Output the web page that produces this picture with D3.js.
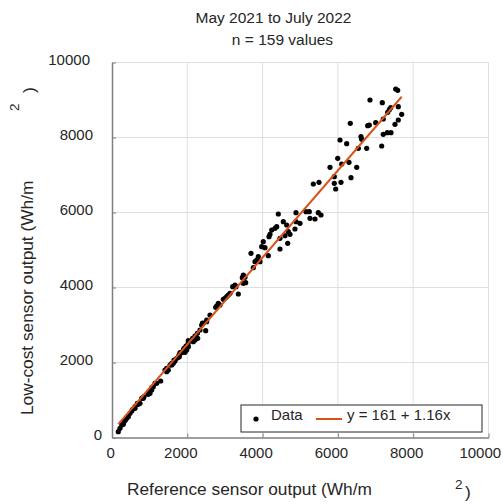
<!DOCTYPE html>
<html><head><meta charset="utf-8">
<script src="https://cdn.jsdelivr.net/npm/d3@7"></script>
<style>body{margin:0;background:#fff}svg{display:block;font-family:"Liberation Sans",Arial,sans-serif}</style>
</head><body>
<script>
const titleLines = ["May 2021 to July 2022", "n = 159 values"];
const xTicks = [0, 2000, 4000, 6000, 8000, 10000];
const yTicks = [0, 2000, 4000, 6000, 8000, 10000];
const xLabelMain = "Reference sensor output (Wh/m";
const yLabelMain = "Low-cost sensor output (Wh/m";
const legendLabels = ["Data", "y = 161 + 1.16x"];
const fitIntercept = 161, fitSlope = 1.16;

const refOutput = [167,212,258,300,319,359,390,433,478,523,550,611,611,672,699,744,789,831,850,964,991,1009,1054,1054,1097,1142,1187,1293,1408,1453,1453,1495,1540,1586,1586,1628,1647,1673,1718,1761,1787,1780,1806,1851,1894,1912,1939,1939,1965,1984,2011,2027,2027,2027,2143,2159,2204,2204,2266,2276,2337,2382,2404,2425,2489,2515,2515,2603,2754,2781,2823,2868,2956,3001,3046,3089,3134,3206,3267,3293,3355,3487,3506,3532,3461,3551,3487,3692,3753,3798,3843,3886,3931,3976,4018,4064,4151,4170,4196,4242,4329,4374,4417,4462,4462,4550,4595,4640,4667,4683,4728,4860,4887,4887,4993,5153,5240,5259,5392,5479,5551,5347,5498,5790,5904,5904,5941,5995,6056,6082,6101,6234,6295,6329,6348,6499,6542,6613,6632,6765,6791,6834,6852,7004,7163,7179,7205,7205,7312,7322,7365,7402,7410,7516,7535,7588,7604,7604,7694];
const lowCostOutput = [155,245,333,352,421,467,512,555,645,707,752,779,821,912,885,912,1045,1045,1088,1152,1221,1179,1267,1328,1355,1445,1445,1507,1800,1755,1845,1800,1933,1933,1979,1979,2067,2040,2112,2139,2155,2200,2261,2261,2333,2379,2272,2379,2440,2333,2467,2421,2528,2581,2645,2555,2600,2707,2779,2645,2867,3000,3053,3045,2848,3088,3133,3267,3472,3507,3579,3533,3685,3712,3755,3800,3845,4021,4067,4021,3827,4333,4307,4272,4261,4128,4112,4912,4528,4688,4733,4821,4688,5088,5221,5061,4848,5355,5419,5533,5579,5621,5960,5312,5027,5755,5381,5667,5179,5488,5419,5560,5755,5995,5712,6021,6021,5845,5827,5995,5933,6760,6805,7205,6955,6779,6627,7445,7933,6805,7293,7835,7339,8379,6928,7205,7712,8021,7952,7712,8315,8333,9000,8395,7773,8928,8493,8085,8128,8672,8741,8795,8128,8352,9293,9259,8821,8467,8619];

const W = 503, H = 504;
const textColor = "#262626", fitColor = "#D95319", gridColor = "#dfdfdf", axisColor = "#7f7f7f";

const svg = d3.select("body").append("svg").attr("width", W).attr("height", H);
const x = d3.scaleLinear().domain([0, 10000]).range([112, 488.5]);
const y = d3.scaleLinear().domain([0, 10000]).range([437.5, 62.5]);

// grid
svg.append("g").selectAll("line").data(xTicks.filter(d => d > 0)).join("line")
  .attr("x1", d => x(d)).attr("x2", d => x(d)).attr("y1", y(0)).attr("y2", y(10000))
  .attr("stroke", gridColor).attr("stroke-width", 1);
svg.append("g").selectAll("line").data(yTicks.filter(d => d > 0)).join("line")
  .attr("y1", d => y(d)).attr("y2", d => y(d)).attr("x1", x(0)).attr("x2", x(10000))
  .attr("stroke", gridColor).attr("stroke-width", 1);

// axes
const gx = svg.append("g").attr("transform", `translate(0,${y(0)})`)
  .call(d3.axisBottom(x).tickValues(xTicks).tickSizeInner(-4).tickSizeOuter(0).tickFormat(d3.format("d")));
gx.selectAll("text").attr("y", 10).attr("dx", d => -1.75 * String(d).length)
  .attr("fill", textColor).style("font-size", "15px").style("font-family", "Liberation Sans, Arial, sans-serif");
const gy = svg.append("g").attr("transform", `translate(${x(0)},0)`)
  .call(d3.axisLeft(y).tickValues(yTicks).tickSizeInner(-4).tickSizeOuter(0).tickFormat(d3.format("d")));
gy.selectAll("text").attr("x", d => -(7 + 3 * String(d).length)).attr("dy", "0.32em").attr("y", -3)
  .attr("fill", textColor).style("font-size", "15px").style("font-family", "Liberation Sans, Arial, sans-serif");
[gx, gy].forEach(g => {
  g.select(".domain").attr("stroke", axisColor).attr("stroke-width", 1.5);
  g.selectAll(".tick line").attr("stroke", axisColor).attr("stroke-width", 1);
});

// points
svg.append("g").selectAll("circle").data(refOutput.map((d, i) => [d, lowCostOutput[i]])).join("circle")
  .attr("cx", d => x(d[0])).attr("cy", d => y(d[1])).attr("r", 2.6).attr("fill", "#000");

// fit line
const ext = d3.extent(refOutput);
svg.append("path").datum(ext.map(v => [v, fitIntercept + fitSlope * v]))
  .attr("d", d3.line().x(d => x(d[0])).y(d => y(d[1])))
  .attr("stroke", fitColor).attr("stroke-width", 2).attr("fill", "none");

// titles
const tFont = "15.5px", lFont = "17.3px";
svg.append("text").attr("x", 273.5).attr("y", 23).attr("text-anchor", "middle").attr("fill", textColor)
  .style("font-size", tFont).text(titleLines[0]);
svg.append("text").attr("x", 282.5).attr("y", 45).attr("text-anchor", "middle").attr("fill", textColor)
  .style("font-size", tFont).text(titleLines[1]);

// x label
svg.append("text").attr("x", 127).attr("y", 495).attr("fill", textColor).style("font-size", lFont).text(xLabelMain);
svg.append("text").attr("x", 455).attr("y", 489).attr("fill", textColor).style("font-size", "13.5px").text("2");
svg.append("text").attr("x", 465).attr("y", 498).attr("fill", textColor).style("font-size", lFont).text(")");

// y label
svg.append("text").attr("transform", "translate(33,415) rotate(-90)").attr("fill", textColor).style("font-size", lFont).text(yLabelMain);
svg.append("text").attr("transform", "translate(19,111) rotate(-90)").attr("fill", textColor).style("font-size", "13.5px").text("2");
svg.append("text").attr("transform", "translate(35,93) rotate(-90)").attr("fill", textColor).style("font-size", lFont).text(")");

// legend
const lg = svg.append("g");
lg.append("rect").attr("x", 241).attr("y", 405).attr("width", 241).attr("height", 27)
  .attr("fill", "#fff").attr("stroke", "#262626").attr("stroke-width", 1);
lg.append("circle").attr("cx", 256).attr("cy", 419).attr("r", 2.6).attr("fill", "#000");
lg.append("text").attr("x", 271).attr("y", 420).attr("fill", textColor).style("font-size", "15px").text(legendLabels[0]);
lg.append("line").attr("x1", 316).attr("x2", 342).attr("y1", 419).attr("y2", 419).attr("stroke", fitColor).attr("stroke-width", 2);
lg.append("text").attr("x", 347).attr("y", 420).attr("fill", textColor).style("font-size", "15px").text(legendLabels[1]);
</script>
</body></html>
